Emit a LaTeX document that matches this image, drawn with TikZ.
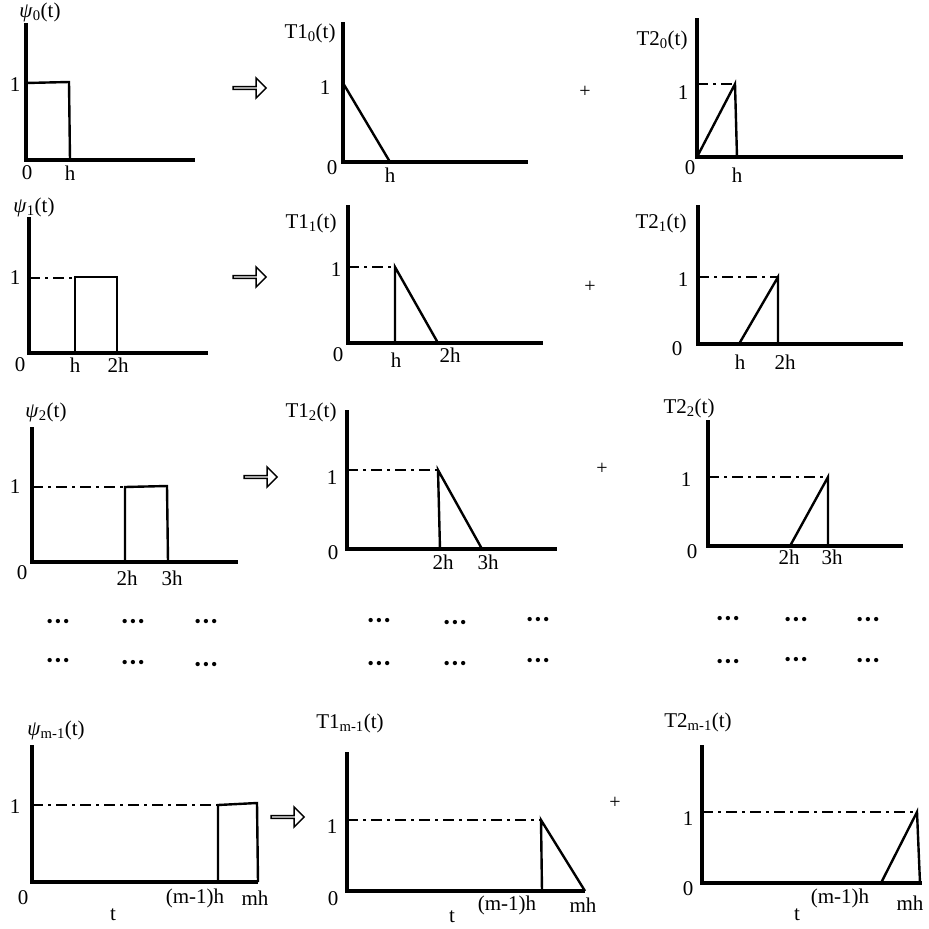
\documentclass[tikz,border=0pt]{standalone}
\usepackage{fontspec}
\setmainfont{Liberation Serif}
\usetikzlibrary{shapes.arrows}

\tikzset{
  axis/.style={line width=3.2pt},
  curve/.style={line width=2.4pt},
  guide/.style={line width=2.4pt, dash pattern=on 11pt off 5pt on 3pt off 5pt},
  lbl/.style={inner sep=0pt, font=\fontsize{21}{24}\selectfont},
  implies/.style={single arrow, draw, fill=white, line width=1.5pt, minimum height=33pt, minimum width=20pt, single arrow head extend=5pt, inner sep=0pt},
  plus/.style={inner sep=0pt, font=\fontsize{20}{22}\selectfont},
  ell/.style={inner sep=0pt, font=\fontsize{18}{20}\selectfont}
}

\begin{document}
\begin{tikzpicture}[x=1pt, y=-1pt]
  \useasboundingbox (0,0) rectangle (929,929);

  % row 0
  \draw[axis] (26,23) -- (26,160) -- (195,160);
  \draw[curve] (26,83) -- (69,82) -- (70,160);
  \node[lbl] (psi0) at (40,12) {\textit{ψ}\textsubscript{0}(t)};
  \node[lbl] (psi0one) at (15,85) {1};
  \node[lbl] (psi0zero) at (27,173) {0};
  \node[lbl] (psi0h) at (70,173) {h};
  \node[implies] (arr0) at (249,88) {};

  \draw[axis] (343,22) -- (343,162) -- (528,162);
  \draw[curve] (343,83) -- (390,162);
  \node[lbl] (ta0) at (310,33) {T1\textsubscript{0}(t)};
  \node[lbl] (ta0one) at (325,88) {1};
  \node[lbl] (ta0zero) at (332,168) {0};
  \node[lbl] (ta0h) at (390,175) {h};
  \node[plus] (plus0) at (585,92) {+};

  \draw[axis] (697,18) -- (697,157) -- (903,157);
  \draw[guide] (697,84) -- (735,84);
  \draw[curve] (697,157) -- (735,84) -- (737,157);
  \node[lbl] (tb0) at (662,40) {T2\textsubscript{0}(t)};
  \node[lbl] (tb0one) at (683,93) {1};
  \node[lbl] (tb0zero) at (690,168) {0};
  \node[lbl] (tb0h) at (737,175) {h};

  % row 1
  \draw[axis] (29,217) -- (29,353) -- (208,353);
  \draw[guide] (29,278) -- (75,278);
  \draw[curve] (75,353) -- (75,277) -- (117,277) -- (117,353);
  \node[lbl] (psi1) at (34,207) {\textit{ψ}\textsubscript{1}(t)};
  \node[lbl] (psi1one) at (15,278) {1};
  \node[lbl] (psi1zero) at (20,365) {0};
  \node[lbl] (psi1h) at (75,365) {h};
  \node[lbl] (psi1hh) at (118,365) {2h};
  \node[implies] (arr1) at (249,277) {};

  \draw[axis] (348,205) -- (348,343) -- (543,343);
  \draw[guide] (348,267) -- (395,267);
  \draw[curve] (395,343) -- (395,267) -- (438,343);
  \node[lbl] (ta1) at (311,223) {T1\textsubscript{1}(t)};
  \node[lbl] (ta1one) at (336,270) {1};
  \node[lbl] (ta1zero) at (338,355) {0};
  \node[lbl] (ta1h) at (396,360) {h};
  \node[lbl] (ta1hh) at (450,355) {2h};
  \node[plus] (plus1) at (590,287) {+};

  \draw[axis] (698,205) -- (698,344) -- (903,344);
  \draw[guide] (698,277) -- (778,277);
  \draw[curve] (739,344) -- (778,277) -- (778,344);
  \node[lbl] (tb1) at (661,223) {T2\textsubscript{1}(t)};
  \node[lbl] (tb1one) at (683,280) {1};
  \node[lbl] (tb1zero) at (677,349) {0};
  \node[lbl] (tb1h) at (740,362) {h};
  \node[lbl] (tb1hh) at (785,362) {2h};

  % row 2
  \draw[axis] (32,427) -- (32,562) -- (238,562);
  \draw[guide] (32,487) -- (125,487);
  \draw[curve] (125,562) -- (125,487) -- (167,486) -- (168,562);
  \node[lbl] (psi2) at (46,412) {\textit{ψ}\textsubscript{2}(t)};
  \node[lbl] (psi2one) at (15,487) {1};
  \node[lbl] (psi2zero) at (22,573) {0};
  \node[lbl] (psi2hh) at (127,578) {2h};
  \node[lbl] (psi2hhh) at (172,578) {3h};
  \node[implies] (arr2) at (260,477) {};

  \draw[axis] (347,410) -- (347,549) -- (557,549);
  \draw[guide] (347,470) -- (438,470);
  \draw[curve] (440,549) -- (438,470) -- (482,549);
  \node[lbl] (ta2) at (311,412) {T1\textsubscript{2}(t)};
  \node[lbl] (ta2one) at (332,478) {1};
  \node[lbl] (ta2zero) at (333,553) {0};
  \node[lbl] (ta2hh) at (443,562) {2h};
  \node[lbl] (ta2hhh) at (488,562) {3h};
  \node[plus] (plus2) at (602,469) {+};

  \draw[axis] (708,420) -- (708,546) -- (903,546);
  \draw[guide] (708,477) -- (828,477);
  \draw[curve] (790,546) -- (828,477) -- (828,546);
  \node[lbl] (tb2) at (689,408) {T2\textsubscript{2}(t)};
  \node[lbl] (tb2one) at (686,480) {1};
  \node[lbl] (tb2zero) at (692,552) {0};
  \node[lbl] (tb2hh) at (789,557) {2h};
  \node[lbl] (tb2hhh) at (832,557) {3h};

  % dots
  \foreach \px/\py [count=\i] in {58/623, 133/623, 206/623, 379/622, 455/624, 538/621, 728/620, 796/621, 868/621,
                                  58/662, 133/664, 206/666, 379/665, 455/665, 538/662, 728/663, 796/661, 868/662}
    \node[ell] (dots\i) at (\px,\py) {\textbullet\hspace{2pt}\textbullet\hspace{2pt}\textbullet};

  % row m-1
  \draw[axis] (32,745) -- (32,882) -- (258,882);
  \draw[guide] (32,805) -- (217,805);
  \draw[curve] (218,882) -- (218,805) -- (257,803) -- (258,882);
  \node[lbl] (psim) at (56,730) {\textit{ψ}\textsubscript{m-1}(t)};
  \node[lbl] (psimone) at (15,807) {1};
  \node[lbl] (psimzero) at (23,898) {0};
  \node[lbl] (psimt) at (113,915) {t};
  \node[lbl] (psimlo) at (195,898) {(m-1)h};
  \node[lbl] (psimhi) at (255,898) {mh};
  \node[implies] (arrm) at (287,817) {};

  \draw[axis] (347,752) -- (347,891) -- (585,891);
  \draw[guide] (347,820) -- (541,820);
  \draw[curve] (542,891) -- (541,820) -- (585,891);
  \node[lbl] (tam) at (350,723) {T1\textsubscript{m-1}(t)};
  \node[lbl] (tamone) at (332,827) {1};
  \node[lbl] (tamzero) at (333,899) {0};
  \node[lbl] (tamt) at (452,917) {t};
  \node[lbl] (tamlo) at (507,905) {(m-1)h};
  \node[lbl] (tamhi) at (583,905) {mh};
  \node[plus] (plusm) at (615,803) {+};

  \draw[axis] (702,745) -- (702,883) -- (922,883);
  \draw[guide] (702,812) -- (917,812);
  \draw[curve] (881,883) -- (917,812) -- (920,883);
  \node[lbl] (tbm) at (698,722) {T2\textsubscript{m-1}(t)};
  \node[lbl] (tbmone) at (688,819) {1};
  \node[lbl] (tbmzero) at (688,889) {0};
  \node[lbl] (tbmt) at (797,915) {t};
  \node[lbl] (tbmlo) at (840,898) {(m-1)h};
  \node[lbl] (tbmhi) at (910,903) {mh};
\end{tikzpicture}
\end{document}
